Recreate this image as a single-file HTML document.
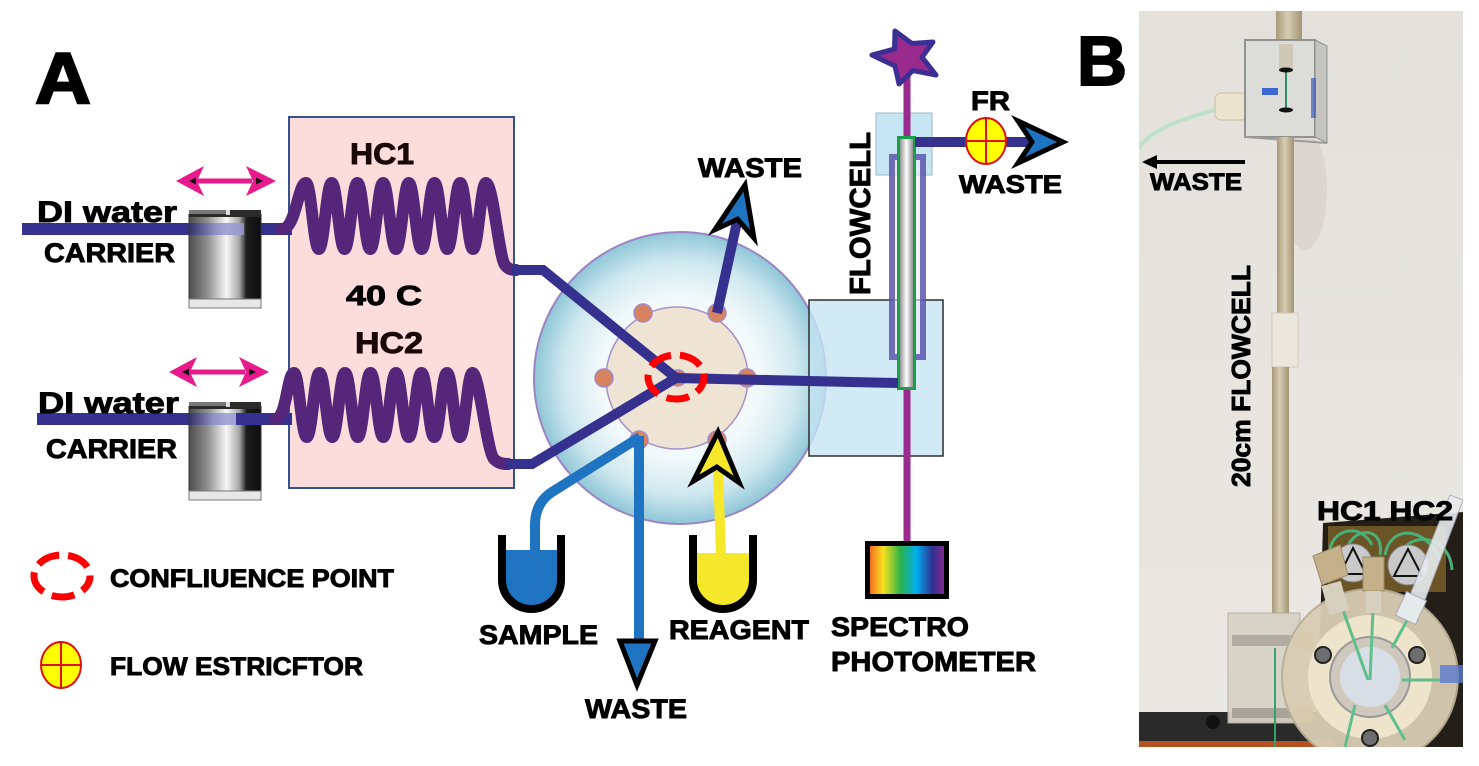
<!DOCTYPE html>
<html><head><meta charset="utf-8"><style>
html,body{margin:0;padding:0;background:#fff;}
svg{display:block;}
.t{font-family:"Liberation Sans",Arial,sans-serif;font-weight:bold;fill:#000;stroke:#000;stroke-width:0.9px;}
</style></head><body>
<svg width="1479" height="766" viewBox="0 0 1479 766" xmlns="http://www.w3.org/2000/svg">
<defs>
<radialGradient id="valveG" cx="50%" cy="50%" r="50%">
<stop offset="0" stop-color="#ffffff"/><stop offset="0.55" stop-color="#f2f9fb"/><stop offset="0.8" stop-color="#cfe8ef"/><stop offset="1" stop-color="#8fc6d7"/>
</radialGradient>
<linearGradient id="cyl" x1="0" x2="1" y1="0" y2="0">
<stop offset="0" stop-color="#4e4e4e"/><stop offset="0.25" stop-color="#8d8d8d"/><stop offset="0.52" stop-color="#f7f7f7"/><stop offset="0.7" stop-color="#a5a5a5"/><stop offset="0.8" stop-color="#1c1c1c"/><stop offset="1" stop-color="#0e0e0e"/>
</linearGradient>
<linearGradient id="lav" x1="0" x2="1" y1="0" y2="0">
<stop offset="0" stop-color="#2c2a6e"/><stop offset="0.5" stop-color="#8a88c8"/><stop offset="1" stop-color="#9c9ad6"/>
</linearGradient>
<linearGradient id="tubeG" x1="0" x2="1" y1="0" y2="0">
<stop offset="0" stop-color="#7a7a7a"/><stop offset="0.5" stop-color="#ffffff"/><stop offset="1" stop-color="#777"/>
</linearGradient>
<linearGradient id="spec" x1="0" x2="1" y1="0" y2="0">
<stop offset="0" stop-color="#f15a24"/><stop offset="0.2" stop-color="#f7e11b"/><stop offset="0.42" stop-color="#2bb24c"/><stop offset="0.62" stop-color="#00aeef"/><stop offset="0.82" stop-color="#2e3192"/><stop offset="1" stop-color="#93278f"/>
</linearGradient>
<linearGradient id="bgP" x1="0" x2="0" y1="0" y2="1">
<stop offset="0" stop-color="#e4e1dc"/><stop offset="1" stop-color="#ebe8e3"/>
</linearGradient>
<linearGradient id="tan" x1="0" x2="1" y1="0" y2="0">
<stop offset="0" stop-color="#a89a7a"/><stop offset="0.45" stop-color="#d6ccb2"/><stop offset="1" stop-color="#a29474"/>
</linearGradient>
<clipPath id="pc"><rect x="1139" y="11" width="324" height="736"/></clipPath>
</defs>

<text class="t" x="35" y="103" font-size="72" textLength="56" lengthAdjust="spacingAndGlyphs" style="stroke-width:2px">A</text>
<text class="t" x="1077" y="85" font-size="70" textLength="50" lengthAdjust="spacingAndGlyphs" style="stroke-width:2px">B</text>

<rect x="289" y="117" width="225" height="371" fill="#fddcdc" stroke="#33528f" stroke-width="2"/>

<rect x="22" y="223" width="270" height="12" fill="#36308f"/>
<rect x="37" y="413" width="220" height="12" fill="#36308f"/>

<g>
<rect x="189" y="214" width="72" height="86" fill="url(#cyl)" stroke="#333" stroke-width="1"/>
<rect x="189" y="210" width="72" height="7" fill="#2a2a2a"/>
<rect x="189" y="210" width="40" height="4" fill="#777"/>
<rect x="226" y="210" width="4" height="5" fill="#ddd"/>
<rect x="189" y="223" width="55" height="12" fill="url(#lav)" opacity="0.8"/>
<rect x="189" y="299" width="72" height="9" fill="#e5e7e9" stroke="#777" stroke-width="1"/>
</g>
<g>
<rect x="189" y="406" width="72" height="86" fill="url(#cyl)" stroke="#333" stroke-width="1"/>
<rect x="189" y="402" width="72" height="7" fill="#2a2a2a"/>
<rect x="189" y="402" width="40" height="4" fill="#777"/>
<rect x="226" y="402" width="4" height="5" fill="#ddd"/>
<rect x="189" y="413" width="48" height="12" fill="url(#lav)" opacity="0.8"/>
<rect x="236" y="413" width="56" height="12" fill="#36308f"/>
<rect x="189" y="491" width="72" height="9" fill="#e5e7e9" stroke="#777" stroke-width="1"/>
</g>

<g fill="#e8198b">
<rect x="196" y="178.5" width="56" height="5"/>
<polygon points="176,181 204,166 197,181 204,196"/>
<polygon points="276,181 246,166 253,181 246,196"/>
<rect x="189" y="369.5" width="56" height="5"/>
<polygon points="169,372 197,357 190,372 197,387"/>
<polygon points="269,372 239,357 246,372 239,387"/>
</g>
<g fill="#111">
<polygon points="189,181 196,177.5 196,184.5"/><polygon points="263,181 256,177.5 256,184.5"/>
<polygon points="182,372 189,368.5 189,375.5"/><polygon points="256,372 249,368.5 249,375.5"/>
</g>

<path d="M 282 229 C 296 229 298 183 306 183 C 311.1 183 313.7 249 318.85 249 S 326.55 183 331.7 183 S 339.4 249 344.55 249 S 352.25 183 357.4 183 S 365.1 249 370.25 249 S 377.95 183 383.1 183 S 390.8 249 395.95 249 S 403.65 183 408.8 183 S 416.5 249 421.65 249 S 429.35 183 434.5 183 S 442.2 249 447.35 249 S 455.05 183 460.2 183 S 467.9 249 473.05 249 S 480.75 183 485.9 183 C 493 183 499 258 505 265 C 508 269 511 270 516 270" fill="none" stroke="#56267a" stroke-width="12" stroke-linecap="round"/>
<path d="M 275 419 C 287 419 287 373 294 373 C 299 373 301.5 437 306.75 437 S 314.25 373 319.5 373 S 327 437 332.25 437 S 339.75 373 345 373 S 352.5 437 357.75 437 S 365.25 373 370.5 373 S 378 437 383.25 437 S 390.75 373 396 373 S 403.5 437 408.75 437 S 416.25 373 421.5 373 S 429 437 434.25 437 S 441.75 373 447 373 S 454.5 437 459.75 437 S 467.25 373 472.5 373 C 479 373 487 452 494 459 C 498 463 502 464 508 464" fill="none" stroke="#56267a" stroke-width="12" stroke-linecap="round"/>

<text class="t" x="350" y="164" font-size="30" textLength="64" lengthAdjust="spacingAndGlyphs" style="fill:#1a0808;stroke:#1a0808">HC1</text>
<text class="t" x="346" y="305" font-size="28" textLength="76" lengthAdjust="spacingAndGlyphs">40 C</text>
<text class="t" x="355" y="353" font-size="30" textLength="68" lengthAdjust="spacingAndGlyphs" style="fill:#1a0808;stroke:#1a0808">HC2</text>

<text class="t" x="37" y="222" font-size="30" textLength="140" lengthAdjust="spacingAndGlyphs">DI water</text>
<text class="t" x="44" y="262" font-size="27" textLength="131" lengthAdjust="spacingAndGlyphs">CARRIER</text>
<text class="t" x="38" y="413" font-size="30" textLength="141" lengthAdjust="spacingAndGlyphs">DI water</text>
<text class="t" x="46" y="458" font-size="27" textLength="131" lengthAdjust="spacingAndGlyphs">CARRIER</text>

<circle cx="680" cy="378" r="146" fill="url(#valveG)" stroke="#9c84c4" stroke-width="2"/>
<circle cx="677" cy="378" r="71" fill="#efe3d3" stroke="#a48fca" stroke-width="1.5"/>
<g fill="#d8835f" stroke="#a08ac8" stroke-width="1.5">
<circle cx="643" cy="313" r="9"/><circle cx="717" cy="313" r="9"/>
<circle cx="604" cy="378" r="9"/><circle cx="747" cy="378" r="9"/>
<circle cx="639" cy="440" r="9"/><circle cx="717" cy="440" r="9"/>
<circle cx="678" cy="378" r="8"/>
</g>

<rect x="809" y="300" width="134" height="156" fill="#c5e5f2" fill-opacity="0.8" stroke="#2d2d2d" stroke-width="1.5"/>
<rect x="876" y="113" width="56" height="62" fill="#c5e5f2" stroke="#9fb8c8" stroke-width="1"/>
<rect x="892" y="157" width="31" height="200" fill="#f1ecf3" fill-opacity="0.6" stroke="#5b56b0" stroke-opacity="0.85" stroke-width="6"/>
<line x1="907" y1="58" x2="907" y2="545" stroke="#9a2a8e" stroke-width="7"/>
<rect x="898.5" y="137.5" width="16" height="251" fill="url(#tubeG)" stroke="#17a047" stroke-width="3"/>

<g fill="none" stroke="#36308f" stroke-width="10" stroke-linejoin="miter">
<path d="M 512 270 L 543 270 L 676 378"/>
<path d="M 506 464 L 532 464 L 676 378"/>
<path d="M 717 313 L 737 222"/>
<path d="M 676 378 L 898 383"/>
<path d="M 915 142 L 1034 142"/>
</g>
<g fill="none" stroke="#1f74c1" stroke-width="10">
<path d="M 640 437 L 552 492 Q 535 503 535 525 L 535 553"/>
<path d="M 639 436 L 639 646"/>
</g>
<line x1="721" y1="555" x2="718" y2="470" stroke="#f5e82a" stroke-width="10"/>

<ellipse cx="676" cy="377" rx="28" ry="22" fill="none" stroke="#ff0000" stroke-width="7" stroke-dasharray="23 9" stroke-dashoffset="6"/>

<polygon points="0,0 -50,-20 -35,0 -50,20" transform="translate(745,185) rotate(-77.8)" fill="#1f74c1" stroke="#000" stroke-width="5"/>
<polygon points="0,0 -45,-21 -31,0 -45,21" transform="translate(1063,142)" fill="#1f74c1" stroke="#000" stroke-width="5"/>
<polygon points="0,0 -50,-23 -35,0 -50,23" transform="translate(718,432) rotate(-88)" fill="#f5e82a" stroke="#000" stroke-width="5"/>
<polygon points="620,641 655,641 637,685" fill="#1f74c1" stroke="#000" stroke-width="5"/>

<ellipse cx="986" cy="141" rx="20" ry="23" fill="#ffff00" stroke="#e01010" stroke-width="2"/>
<line x1="966" y1="141" x2="1006" y2="141" stroke="#e01010" stroke-width="2"/>
<line x1="986" y1="118" x2="986" y2="164" stroke="#e01010" stroke-width="2"/>

<polygon points="895,31 911.9,43.5 933,42 922,57.2 936,75 912.9,70.5 899,84 895,66 872,55 894.5,49" fill="#9a2a8e" stroke="#3b2f93" stroke-width="5" stroke-linejoin="round"/>

<path d="M 502 550 V 580 A 29.5 29 0 0 0 561 580 V 550 Z" fill="#1f74c1"/>
<path d="M 502 535 V 580 A 29.5 29 0 0 0 561 580 V 535" fill="none" stroke="#000" stroke-width="8"/>
<path d="M 693 553 V 580 A 30 29 0 0 0 753 580 V 553 Z" fill="#f5e82a"/>
<path d="M 693 535 V 580 A 30 29 0 0 0 753 580 V 535" fill="none" stroke="#000" stroke-width="8"/>

<rect x="867.5" y="543.5" width="79" height="53" fill="url(#spec)" stroke="#000" stroke-width="5"/>

<text class="t" x="698" y="177" font-size="27" textLength="104" lengthAdjust="spacingAndGlyphs">WASTE</text>
<text class="t" transform="translate(870,295) rotate(-90)" x="0" y="0" font-size="29" textLength="163" lengthAdjust="spacingAndGlyphs">FLOWCELL</text>
<text class="t" x="971" y="110" font-size="27" textLength="39" lengthAdjust="spacingAndGlyphs">FR</text>
<text class="t" x="959" y="193" font-size="25" textLength="103" lengthAdjust="spacingAndGlyphs">WASTE</text>
<text class="t" x="479" y="644" font-size="27" textLength="119" lengthAdjust="spacingAndGlyphs">SAMPLE</text>
<text class="t" x="585" y="718" font-size="27" textLength="102" lengthAdjust="spacingAndGlyphs">WASTE</text>
<text class="t" x="669" y="639" font-size="27" textLength="140" lengthAdjust="spacingAndGlyphs">REAGENT</text>
<text class="t" x="831" y="636" font-size="27" textLength="138" lengthAdjust="spacingAndGlyphs">SPECTRO</text>
<text class="t" x="831" y="671" font-size="28" textLength="205" lengthAdjust="spacingAndGlyphs">PHOTOMETER</text>

<ellipse cx="62" cy="576" rx="28" ry="21" fill="none" stroke="#ff0000" stroke-width="7" stroke-dasharray="23 9" stroke-dashoffset="6"/>
<text class="t" x="110" y="587" font-size="25" textLength="284" lengthAdjust="spacingAndGlyphs">CONFLIUENCE POINT</text>
<ellipse cx="61" cy="665" rx="20" ry="23" fill="#ffff00" stroke="#e01010" stroke-width="2"/>
<line x1="41" y1="665" x2="81" y2="665" stroke="#e01010" stroke-width="2"/>
<line x1="61" y1="642" x2="61" y2="688" stroke="#e01010" stroke-width="2"/>
<text class="t" x="110" y="675" font-size="25" textLength="253" lengthAdjust="spacingAndGlyphs">FLOW ESTRICFTOR</text>

<g clip-path="url(#pc)">
<rect x="1139" y="11" width="324" height="736" fill="url(#bgP)"/>
<ellipse cx="1305" cy="190" rx="22" ry="60" fill="#d4cfc7" opacity="0.6"/>
<path d="M 1139 148 C 1152 128 1185 118 1222 108" fill="none" stroke="#bde0c9" stroke-width="4"/>
<rect x="1276" y="11" width="26" height="29" fill="url(#tan)"/>
<rect x="1215" y="93" width="32" height="27" rx="6" fill="#ece4cf" stroke="#c9bd9e" stroke-width="1"/>
<rect x="1245" y="40" width="70" height="97" fill="#dcdcd8" stroke="#8e8e8e" stroke-width="2" opacity="0.95"/>
<polygon points="1315,40 1327,46 1327,143 1315,137" fill="#c4c4c0" stroke="#8e8e8e" stroke-width="1"/>
<line x1="1245" y1="137" x2="1327" y2="143" stroke="#9a9a9a" stroke-width="2"/>
<rect x="1279" y="44" width="14" height="25" fill="#cfc8b5"/>
<line x1="1286" y1="70" x2="1286" y2="110" stroke="#2f8a6a" stroke-width="2"/>
<ellipse cx="1286" cy="70" rx="7" ry="2.5" fill="#111"/>
<ellipse cx="1286" cy="110" rx="7" ry="2.5" fill="#111"/>
<rect x="1262" y="88" width="16" height="7" fill="#3a6ad0"/>
<rect x="1311" y="78" width="5" height="40" fill="#3a5ab8" opacity="0.7"/>
<rect x="1277" y="137" width="17" height="177" fill="url(#tan)"/>
<rect x="1272" y="313" width="26" height="54" fill="#ece7dc" stroke="#d0c8b8" stroke-width="1"/>
<rect x="1272" y="367" width="17" height="250" fill="url(#tan)"/>
<line x1="1245" y1="162" x2="1153" y2="162" stroke="#000" stroke-width="4"/>
<polygon points="1142,162 1157,155 1157,169" fill="#000"/>
<text class="t" x="1150" y="190" font-size="24" textLength="92" lengthAdjust="spacingAndGlyphs">WASTE</text>
<text class="t" transform="translate(1250,487) rotate(-90)" x="0" y="0" font-size="26" textLength="222" lengthAdjust="spacingAndGlyphs">20cm  FLOWCELL</text>
<polygon points="1323,523 1463,512 1463,747 1317,747" fill="#231e17"/>
<rect x="1328" y="526" width="118" height="66" fill="#6b5426"/>
<rect x="1139" y="712" width="195" height="35" fill="#2a2a2a"/>
<rect x="1139" y="741" width="195" height="6" fill="#b5521f"/>
<circle cx="1213" cy="722" r="7" fill="#111"/>
<rect x="1228" y="613" width="72" height="110" fill="#d7d2c6" stroke="#b5b0a4" stroke-width="1" opacity="0.95"/>
<rect x="1232" y="635" width="65" height="11" fill="#b0aca2"/>
<rect x="1232" y="708" width="65" height="10" fill="#a8a49a"/>
<rect x="1297" y="632" width="16" height="18" fill="#c9a23a"/>
<rect x="1297" y="706" width="16" height="16" fill="#c9a23a"/>
<line x1="1275" y1="648" x2="1275" y2="747" stroke="#3aa06a" stroke-width="2"/>
<g fill="none" stroke="#4caf78" stroke-width="3">
<path d="M 1330 560 C 1325 530 1360 520 1372 545"/>
<path d="M 1345 555 C 1350 525 1385 525 1380 555"/>
<path d="M 1385 555 C 1390 525 1425 525 1440 560"/>
<path d="M 1400 555 C 1410 530 1450 535 1452 570"/>
</g>
<circle cx="1353" cy="563" r="19" fill="#c9c9c9" stroke="#888" stroke-width="1"/>
<polygon points="1353,548 1366,574 1340,574" fill="none" stroke="#111" stroke-width="2"/>
<circle cx="1408" cy="565" r="20" fill="#c9c9c9" stroke="#888" stroke-width="1"/>
<polygon points="1408,549 1422,576 1394,576" fill="none" stroke="#111" stroke-width="2"/>
<circle cx="1370" cy="677" r="88" fill="#d9cdb3" stroke="#b8ad95" stroke-width="2" opacity="0.95"/>
<circle cx="1370" cy="677" r="62" fill="#eee3cb"/>
<circle cx="1370" cy="677" r="40" fill="#cfc8bc" stroke="#999" stroke-width="2"/>
<circle cx="1370" cy="677" r="30" fill="#d8dee6"/>
<g fill="#6e6e6e" stroke="#222" stroke-width="2">
<circle cx="1323" cy="655" r="8"/><circle cx="1417" cy="655" r="8"/><circle cx="1370" cy="738" r="8"/>
</g>
<g fill="none" stroke="#5fbf8a" stroke-width="3">
<path d="M 1343 610 L 1368 680"/><path d="M 1373 610 L 1370 680"/><path d="M 1410 615 L 1392 648"/>
<path d="M 1402 680 L 1440 680"/><path d="M 1355 705 L 1345 747"/><path d="M 1385 705 L 1405 740"/>
</g>
<polygon points="1313,556 1340,545 1348,575 1322,585" fill="#c4b08a" stroke="#9c8a66" stroke-width="1"/>
<rect x="1325" y="583" width="20" height="30" fill="#d8d0be" transform="rotate(-15 1335 598)"/>
<rect x="1363" y="557" width="21" height="34" fill="#c4b08a" stroke="#9c8a66" stroke-width="1"/>
<rect x="1366" y="591" width="15" height="22" fill="#d8d0be"/>
<polygon points="1450,495 1463,500 1425,600 1410,595" fill="#e8ecee" stroke="#aab" stroke-width="1" opacity="0.9"/>
<rect x="1400" y="595" width="22" height="26" fill="#e6eaea" stroke="#aab" stroke-width="1" transform="rotate(25 1411 608)"/>
<rect x="1440" y="665" width="23" height="18" fill="#5a7ad0" opacity="0.8"/>
<text class="t" x="1317" y="520" font-size="27" textLength="136" lengthAdjust="spacingAndGlyphs">HC1 HC2</text>
</g>
</svg>
</body></html>
